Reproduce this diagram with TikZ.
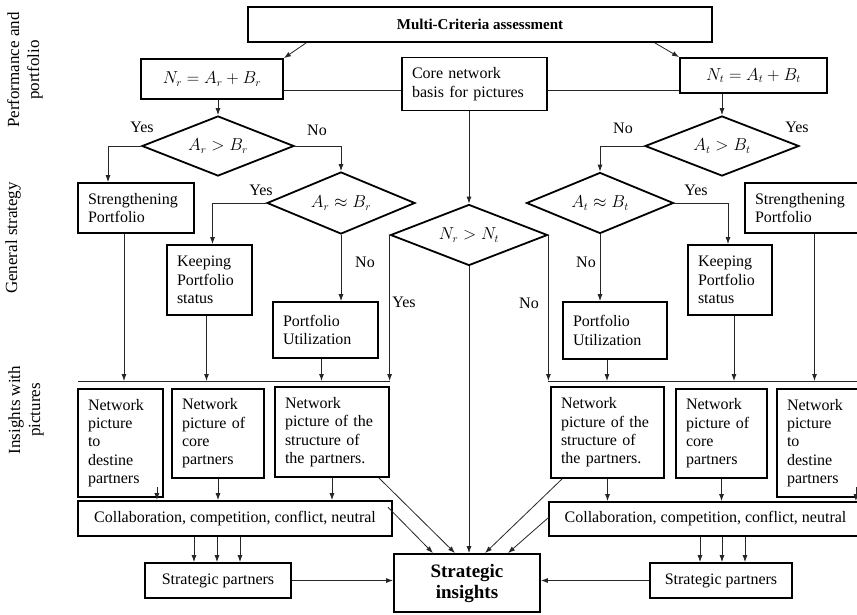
\documentclass[tikz,border=0pt]{standalone}
\usepackage{fontspec}
\setmainfont{Liberation Serif}
\usepackage{amsmath,amssymb}
\usetikzlibrary{arrows.meta,shapes.geometric,calc}

\begin{document}
\begin{tikzpicture}[
  x=1pt, y=-1pt,
  box/.style={draw, line width=1.8pt, inner xsep=10pt, inner ysep=2pt, align=left,
              font=\fontsize{16}{18.3}\selectfont},
  cbox/.style={draw, line width=1.8pt, inner sep=2pt, align=center,
               font=\fontsize{16}{18.3}\selectfont},
  dec/.style={draw, diamond, aspect=2.5, inner sep=0pt, line width=1.8pt,
              font=\fontsize{16}{18}\selectfont},
  lbl/.style={font=\fontsize{16}{18}\selectfont},
  side/.style={rotate=90, align=center, font=\fontsize{17}{20}\selectfont},
  line/.style={line width=0.8pt, black!85},
  arr/.style={line, -{Latex[length=7pt,width=5pt]}}
]
  \useasboundingbox (0,0) rectangle (857,614);
  \clip (0,0) rectangle (857,614);

  \node[side] (sperf) at (25,70) {Performance and\\portfolio};
  \node[side] (sgen) at (13,238) {General strategy};
  \node[side] (sins) at (26,410) {Insights with\\pictures};

  \node[cbox, minimum width=464, minimum height=35,
        font=\fontsize{15}{18}\selectfont\bfseries] (crit) at (480,24.5) {Multi-Criteria assessment};
  \node[cbox, minimum width=142, minimum height=40] (nr) at (212,79) {$N_r = A_r + B_r$};
  \node[box, minimum height=53, text width=125] (core) at (474.5,84) {Core network\\basis for pictures};
  \node[cbox, minimum width=147, minimum height=35] (nt) at (753.5,75.5) {$N_t = A_t + B_t$};

  \node[dec, minimum width=152, minimum height=60] (arb) at (218,146) {$A_r > B_r$};
  \node[dec, minimum width=148, minimum height=62] (aeb) at (341,203) {$A_r \approx B_r$};
  \node[dec, minimum width=157, minimum height=61] (nrnt) at (469,235) {$N_r > N_t$};
  \node[dec, minimum width=154, minimum height=60] (atb) at (722,146) {$A_t > B_t$};
  \node[dec, minimum width=147, minimum height=61] (aet) at (600,203) {$A_t \approx B_t$};

  \node[box, minimum height=50, text width=96] (strl) at (136,208) {Strengthening\\Portfolio};
  \node[box, minimum height=70, text width=65] (keepl) at (209.5,280) {Keeping\\Portfolio\\status};
  \node[box, minimum height=56, text width=85] (utill) at (325.5,330) {Portfolio\\Utilization};
  \node[box, minimum height=57, text width=84] (utilr) at (615,330.5) {Portfolio\\Utilization};
  \node[box, minimum height=70, text width=64] (keepr) at (730,280) {Keeping\\Portfolio\\status};
  \node[box, minimum height=50, text width=105] (strr) at (807.5,208) {Strengthening\\Portfolio};

  \node[box, minimum height=108, text width=65] (destl) at (120.5,443) {Network\\picture\\to\\destine\\partners};
  \node[box, minimum height=89, text width=72] (corel) at (218,433.5) {Network\\picture of\\core\\partners};
  \node[box, minimum height=90, text width=94] (strucl) at (332,432) {Network\\picture of the\\structure of\\the partners.};
  \node[cbox, minimum width=314, minimum height=35] (colll) at (235,518.5) {Collaboration, competition, conflict, neutral};
  \node[cbox, minimum width=146, minimum height=35] (spl) at (218,580.5) {Strategic partners};
  \node[cbox, minimum width=146, minimum height=58,
        font=\fontsize{19}{21}\selectfont\bfseries] (si) at (467,583) {Strategic\\insights};
  \node[box, minimum height=91, text width=93] (strucr) at (607.5,432.5) {Network\\picture of the\\structure of\\the partners.};
  \node[box, minimum height=89, text width=71] (corer) at (721.5,433.5) {Network\\picture of\\core\\partners};
  \node[box, minimum height=108, text width=65] (destr) at (819.5,443) {Network\\picture\\to\\destine\\partners};
  \node[cbox, minimum width=313, minimum height=34] (collr) at (705.5,519) {Collaboration, competition, conflict, neutral};
  \node[cbox, minimum width=142, minimum height=35] (spr) at (721,580.5) {Strategic partners};

  \node[lbl] (y1) at (142,127) {Yes};
  \node[lbl] (n1) at (317,130) {No};
  \node[lbl] (y2) at (261,190) {Yes};
  \node[lbl] (n2) at (365,262) {No};
  \node[lbl] (y3) at (404,302) {Yes};
  \node[lbl] (n3) at (529,303) {No};
  \node[lbl] (n4) at (623,128) {No};
  \node[lbl] (y4) at (797,127) {Yes};
  \node[lbl] (y5) at (696,190) {Yes};
  \node[lbl] (n5) at (586,262) {No};

  \draw[arr] ($(crit.south west)+(59,0)$) -- (nr.north east);
  \draw[arr] ($(crit.south east)+(-58,0)$) -- (nt.north west);
  \coordinate (lnk) at ($(core.west)+(0,6)$);
  \draw[line] (nr.east |- lnk) -- (lnk);
  \draw[line] (core.east |- lnk) -- (nt.west |- lnk);

  \draw[arr] (nrnt.north |- core.south) -- (nrnt.north);
  \draw[arr] (arb.north |- nr.south) -- (arb.north);
  \draw[arr] (arb.west) -| ($(strl.north)+(-28,0)$);
  \draw[arr] (arb.east) -| (aeb.north);
  \draw[arr] (aeb.west) -| ($(keepl.north)+(3,0)$);
  \draw[arr] (aeb.south) -- (aeb.south |- utill.north);
  \draw[arr] (atb.north |- nt.south) -- (atb.north);
  \draw[arr] (atb.west) -| (aet.north);
  \draw[arr] (aet.east) -| ($(keepr.north)+(-2,0)$);
  \draw[arr] (aet.south) -- (aet.south |- utilr.north);

  \coordinate (barl) at (78,381);
  \coordinate (barr) at (857,381);
  \draw[line] (barl) -- (barl -| nrnt.west);
  \draw[line] (barr -| nrnt.east) -- (barr);
  \draw[arr] (nrnt.west) -- (nrnt.west |- barl);
  \draw[arr] (nrnt.east) -- (nrnt.east |- barl);
  \foreach \n/\dx in {strl/-12, keepl/-3, utill/-4, utilr/-8, keepr/4, strr/7}
    \draw[arr] ($(\n.south)+(\dx,0)$) -- ($(\n.south |- barl)+(\dx,0)$);

  \draw[arr] ($(destl.south east)+(-7,-11)$) -- ($(destl.south east |- colll.north)+(-7,0)$);
  \draw[arr] (corel.south) -- (corel.south |- colll.north);
  \draw[arr] (strucl.south) -- (strucl.south |- colll.north);
  \foreach \dx in {-24,-1,22}
    \draw[arr] ($(colll.south -| spl.north)+(\dx,0)$) -- ($(spl.north)+(\dx,0)$);
  \draw[arr] (spl.east) -- (spl.east -| si.west);

  \draw[arr] ($(strucl.south east)+(-11,0)$) -- ($(si.north)+(-12,0)$);
  \draw[arr] ($(colll.north east)+(-5,7)$) -- ($(si.north)+(-34,0)$);
  \draw[arr] (nrnt.south) -- (nrnt.south |- si.north);
  \draw[arr] ($(strucr.south west)+(12,0)$) -- ($(si.north)+(18,0)$);
  \draw[arr] ($(collr.west)+(1,-2)$) -- ($(si.north)+(41,0)$);

  \draw[arr] (strucr.south) -- (strucr.south |- collr.north);
  \draw[arr] (corer.south) -- (corer.south |- collr.north);
  \draw[arr] ($(destr.south east)+(-7,-11)$) -- ($(destr.south east |- collr.north)+(-7,0)$);
  \foreach \dx in {-21,1,24}
    \draw[arr] ($(collr.south -| spr.north)+(\dx,0)$) -- ($(spr.north)+(\dx,0)$);
  \draw[arr] (spr.west) -- (spr.west -| si.east);
\end{tikzpicture}
\end{document}
